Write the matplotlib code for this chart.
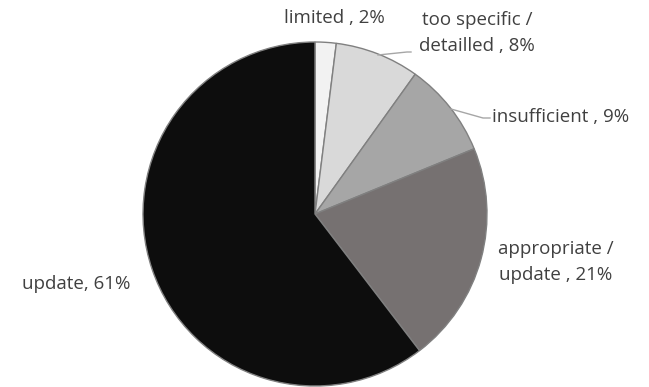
import matplotlib.pyplot as plt

labels = ['limited , 2%', 'too specific /\ndetailled , 8%', 'insufficient , 9%',
          'appropriate /\nupdate , 21%', 'update, 61%']
values = [2, 8, 9, 21, 61]
colors = ['#f2f2f2', '#d9d9d9', '#a6a6a6', '#767171', '#0d0d0d']

plt.rcParams['font.family'] = ['Open Sans', 'DejaVu Sans']

fig = plt.figure(figsize=(6.49, 3.87), dpi=100)
cx, cy, r = 315, 214, 172
ax = fig.add_axes([(cx - r) / 649, (387 - cy - r) / 387, 2 * r / 649, 2 * r / 387])
ax.pie(values, colors=colors, startangle=90, counterclock=False, radius=1,
       wedgeprops=dict(edgecolor='#808080', linewidth=1.0))
ax.set_xlim(-1, 1)
ax.set_ylim(-1, 1)
ax.set_aspect('equal')
ax.axis('off')


def pos(px, py):
    return (px - cx) / r, (cy - py) / r


txt = dict(fontsize=13.5, color='#404040', linespacing=1.55)
ax.text(*pos(334, 18), labels[0], ha='center', va='center', **txt)
ax.text(*pos(477, 33), labels[1], ha='center', va='center', **txt)
ax.text(*pos(492, 117), labels[2], ha='left', va='center', **txt)
ax.text(*pos(556, 262), labels[3], ha='center', va='center', **txt)
ax.text(*pos(76, 284), labels[4], ha='center', va='center', **txt)

# leader lines
line = dict(color='#a6a6a6', linewidth=1.0, clip_on=False)
ax.plot(*zip(pos(378, 55), pos(407, 52), pos(411, 52)), **line)
ax.plot(*zip(pos(451, 109), pos(483, 118), pos(490, 118)), **line)

fig.savefig('out.png', dpi=100)
